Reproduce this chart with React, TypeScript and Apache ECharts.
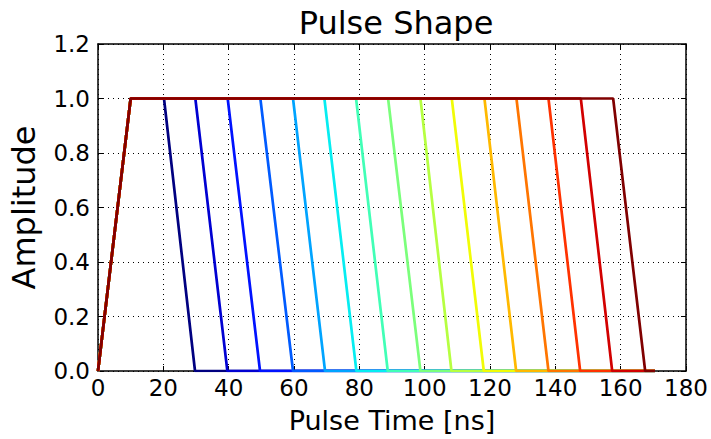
import React, { useEffect, useRef } from "react";
import * as echarts from "echarts";

// Pulse shape data (ns / amplitude)
const riseStart = 0;
const riseEnd = 10;
const tailEnd = 170.5;
const fallStarts = [20.2, 29.8, 39.7, 49.7, 59.7, 69.3, 79.0, 88.8, 98.7, 108.3, 118.3, 128.1, 137.9, 147.8, 157.7];
const fallEnds = [29.7, 39.6, 49.6, 59.7, 69.5, 79.1, 88.7, 98.7, 108.2, 118.1, 128.0, 137.9, 147.6, 157.4, 167.5];
const xTicks = [0, 20, 40, 60, 80, 100, 120, 140, 160, 180];
const yTicks = [0.0, 0.2, 0.4, 0.6, 0.8, 1.0, 1.2];

// matplotlib "jet" colormap
const jetSeg: Record<string, number[][]> = {
  r: [[0, 0], [0.35, 0], [0.66, 1], [0.89, 1], [1, 0.5]],
  g: [[0, 0], [0.125, 0], [0.375, 1], [0.64, 1], [0.91, 0], [1, 0]],
  b: [[0, 0.5], [0.11, 1], [0.34, 1], [0.65, 0], [1, 0]],
};
function segVal(seg: number[][], t: number) {
  for (let i = 1; i < seg.length; i++) {
    if (t <= seg[i][0]) {
      const [x0, y0] = seg[i - 1];
      const [x1, y1] = seg[i];
      return y0 + ((t - x0) / (x1 - x0)) * (y1 - y0);
    }
  }
  return seg[seg.length - 1][1];
}
function jet(t: number) {
  const c = (v: number) => Math.round(v * 255);
  return `rgb(${c(segVal(jetSeg.r, t))},${c(segVal(jetSeg.g, t))},${c(segVal(jetSeg.b, t))})`;
}

const FONT = "DejaVu Sans";

export default function App() {
  const ref = useRef<HTMLDivElement>(null);
  useEffect(() => {
    if (!ref.current) return;
    const chart = echarts.init(ref.current, undefined, { renderer: "svg" });
    const n = fallStarts.length;
    const series = fallStarts.map((fs, i) => ({
      type: "line",
      data: [
        [riseStart, 0],
        [riseEnd, 1],
        [fs, 1],
        [fallEnds[i], 0],
        [tailEnd, 0],
      ],
      showSymbol: false,
      symbol: "none",
      lineStyle: { width: 2.7, color: jet(i / (n - 1)) },
      z: 2 + i,
      xAxisIndex: 0,
      yAxisIndex: 0,
    }));
    const tickLabel = { fontFamily: FONT, fontSize: 23, color: "#000" };
    chart.setOption({
      animation: false,
      backgroundColor: "#fff",
      title: {
        text: "Pulse Shape",
        left: 391,
        top: 2,
        textAlign: "center",
        textStyle: { fontFamily: FONT, fontSize: 32, fontWeight: "normal", color: "#000" },
      },
      grid: { left: 97, right: 25, top: 44, bottom: 66, containLabel: false },
      xAxis: [
        {
          type: "value",
          min: 0,
          max: 180,
          interval: 20,
          name: "Pulse Time [ns]",
          nameLocation: "middle",
          nameGap: 36,
          nameTextStyle: { fontFamily: FONT, fontSize: 27, color: "#000" },
          axisLine: { show: true, onZero: false, lineStyle: { color: "#000", width: 1.5 } },
          axisTick: { show: true, inside: true, length: 5, lineStyle: { color: "#000", width: 1 } },
          axisLabel: { ...tickLabel, margin: 5, formatter: (v: number) => (xTicks.includes(v) ? String(v) : "") },
          splitLine: { show: true, lineStyle: { color: "#000", type: [1, 4], width: 1 } },
        },
        {
          type: "value",
          position: "top",
          min: 0,
          max: 180,
          interval: 20,
          axisLine: { show: true, onZero: false, lineStyle: { color: "#000", width: 1.5 } },
          axisTick: { show: true, inside: true, length: 5, lineStyle: { color: "#000", width: 1 } },
          axisLabel: { show: false },
          splitLine: { show: false },
        },
      ],
      yAxis: [
        {
          type: "value",
          min: 0,
          max: 1.2,
          interval: 0.2,
          name: "Amplitude",
          nameLocation: "middle",
          nameGap: 58,
          nameTextStyle: { fontFamily: FONT, fontSize: 32, color: "#000" },
          axisLine: { show: true, onZero: false, lineStyle: { color: "#000", width: 1.5 } },
          axisTick: { show: true, inside: true, length: 5, lineStyle: { color: "#000", width: 1 } },
          axisLabel: {
            ...tickLabel,
            margin: 8,
            formatter: (v: number) => {
              const m = yTicks.find((t) => Math.abs(t - v) < 1e-6);
              return m === undefined ? "" : m.toFixed(1);
            },
          },
          splitLine: { show: true, lineStyle: { color: "#000", type: [1, 4], width: 1 } },
        },
        {
          type: "value",
          position: "right",
          min: 0,
          max: 1.2,
          interval: 0.2,
          axisLine: { show: true, onZero: false, lineStyle: { color: "#000", width: 1.5 } },
          axisTick: { show: true, inside: true, length: 5, lineStyle: { color: "#000", width: 1 } },
          axisLabel: { show: false },
          splitLine: { show: false },
        },
      ],
      series,
    });
    return () => chart.dispose();
  }, []);
  return (
    <div
      ref={ref}
      style={{ position: "fixed", left: 0, top: 0, width: 711, height: 439, background: "#fff" }}
    />
  );
}
